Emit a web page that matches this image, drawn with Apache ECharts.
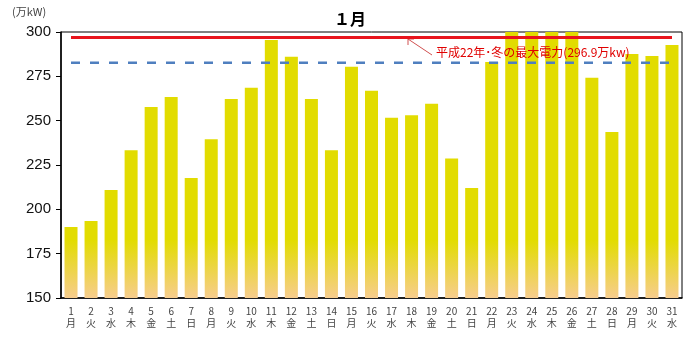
<!DOCTYPE html>
<html><head><meta charset="utf-8">
<script src="https://cdn.jsdelivr.net/npm/echarts@6/dist/echarts.min.js"></script>
<style>html,body{margin:0;padding:0;background:#fff}#c{width:700px;height:349px}</style>
</head><body><div id="c"></div>
<script>
const days = ['1','2','3','4','5','6','7','8','9','10','11','12','13','14','15','16','17','18','19','20','21','22','23','24','25','26','27','28','29','30','31'];
const weekdays = ['月','火','水','木','金','土','日','月','火','水','木','金','土','日','月','火','水','木','金','土','日','月','火','水','木','金','土','日','月','火','水'];
const peakDemand = [190,193.4,210.9,233.3,257.7,263.3,217.7,239.5,262.2,268.6,295.5,286.1,262.2,233.3,280.4,266.9,251.7,253,259.6,228.7,212,283.1,305,305,305,305,274.2,243.6,287.6,286.5,292.7];
const recordPeak = 296.9;
const supplyLine = 282.6;
const yTicks = {min:150, max:300, interval:25};

const chart = echarts.init(document.getElementById('c'));
const cats = days.map((d,i)=>d+'\n'+weekdays[i]);
chart.setOption({
  animation:false,
  textStyle:{fontFamily:'"Liberation Sans","Noto Sans CJK JP",sans-serif'},
  title:{text:'１月', left:'center', top:6, textStyle:{fontSize:16, fontWeight:'bold', color:'#000', fontFamily:'"Noto Sans CJK JP",sans-serif'}},
  grid:{left:61, right:18, top:32, bottom:51, show:true, borderColor:'#000', borderWidth:1, backgroundColor:'transparent'},
  xAxis:{type:'category', data:cats, boundaryGap:true,
    axisLine:{lineStyle:{color:'#000', width:1.5}},
    axisTick:{inside:true, length:3, lineStyle:{color:'#000'}},
    axisLabel:{interval:0, fontSize:10, lineHeight:12, color:'#444', margin:7, fontFamily:'"Noto Sans CJK JP",sans-serif'}},
  yAxis:{type:'value', min:yTicks.min, max:yTicks.max, interval:yTicks.interval,
    axisLine:{show:true, lineStyle:{color:'#000', width:1.5}},
    axisTick:{show:true, length:5, lineStyle:{color:'#000'}},
    splitLine:{show:false},
    axisLabel:{fontSize:15, color:'#111', margin:10}},
  series:[
    {type:'bar', data:peakDemand, barWidth:13, clip:true,
      itemStyle:{color:{type:'linear', x:0, y:240, x2:0, y2:298, global:true,
        colorStops:[{offset:0,color:'#e2dc00'},{offset:1,color:'#f7cd8e'}]}}},
    {type:'line', data:days.map(()=>recordPeak), symbol:'none', lineStyle:{color:'#e8141c', width:3}, z:5},
    {type:'line', data:days.map(()=>supplyLine), symbol:'none', lineStyle:{color:'#4f7fbf', width:2.5, type:[9,10]}, z:5}
  ],
  graphic:[
    {type:'text', left:12, top:6, style:{text:'(万kW)', fontSize:11, fill:'#444', fontFamily:'"Noto Sans CJK JP",sans-serif'}},
    {type:'line', shape:{x1:432, y1:55, x2:408, y2:39}, style:{stroke:'#d05050', lineWidth:1}},
    {type:'polyline', shape:{points:[[408,45],[408,39],[414,39]]}, style:{stroke:'#d05050', lineWidth:1, fill:null}},
    {type:'text', left:436, top:46, style:{text:'平成22年･冬の最大電力(296.9万kw)', fontSize:12, fill:'#e00000', fontFamily:'"Noto Sans CJK JP",sans-serif'}, z:10}
  ]
});
</script></body></html>
